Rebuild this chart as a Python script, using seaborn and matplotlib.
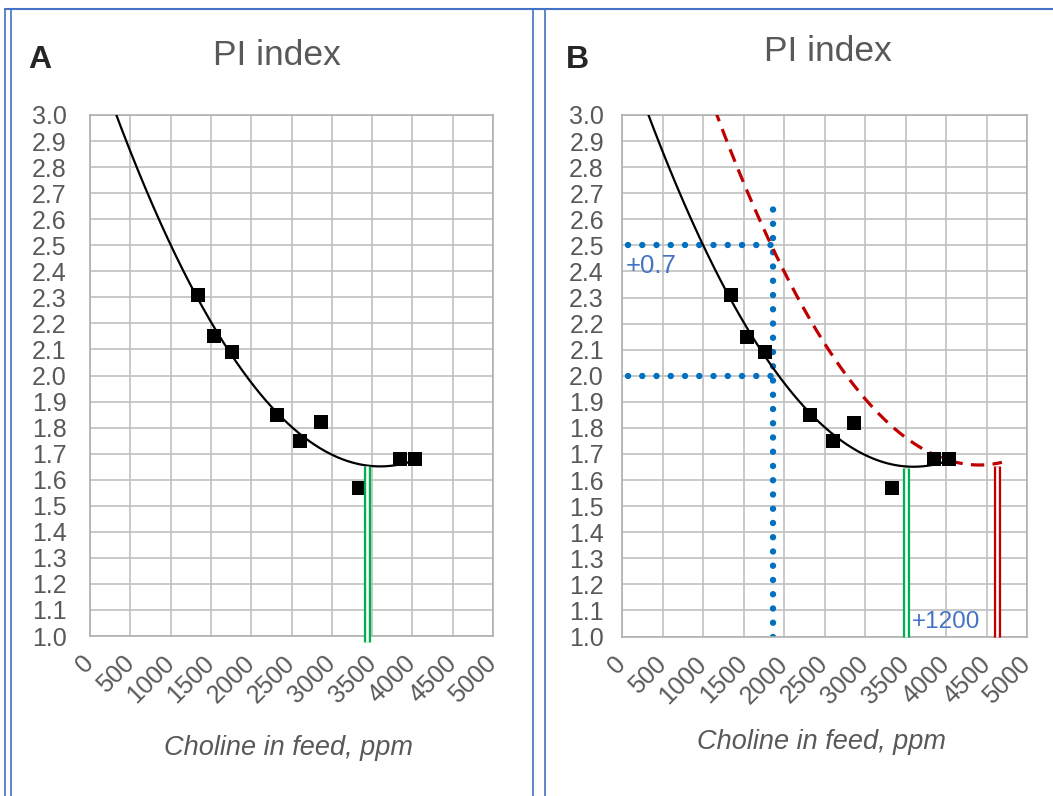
import numpy as np
import pandas as pd
import matplotlib
matplotlib.use("Agg")
import matplotlib.pyplot as plt
from matplotlib.lines import Line2D
import seaborn as sns

# measured points (same in both panels)
CHOLINE = [1344, 1538, 1762, 2316, 2605, 2862, 3334, 3846, 4032]
PI = [2.31, 2.15, 2.09, 1.85, 1.75, 1.82, 1.57, 1.68, 1.68]

# shifted trend in panel B
SHIFT_X = [1150, 1500, 1870, 2320, 2730, 3140, 3680, 4010, 4380, 4690]
SHIFT_Y = [3.00, 2.75, 2.51, 2.21, 2.01, 1.86, 1.72, 1.68, 1.66, 1.67]

X_TICKS = list(range(0, 5001, 500))
Y_TICKS = [round(1.0 + 0.1 * i, 1) for i in range(21)]

OPT_A = 3433
OPT_B = 3500
OPT_SHIFT = 4632
OPT_Y = 1.652
GUIDE_X = 1868
GUIDE_TOP = 2.67
GUIDE_LEVELS = [2.5, 2.0]

GRAY = "#595959"
GRID = "#C0C0C0"
FONT = "Liberation Sans"
W, H = 1053, 796


def style_axes(ax, ypad):
    ax.set_xlim(0, 5000)
    ax.set_ylim(1.0, 3.0)
    ax.set_xticks(X_TICKS)
    ax.set_yticks(Y_TICKS)
    ax.set_yticklabels([f"{v:.1f}" for v in Y_TICKS])
    ax.set_xticklabels([str(v) for v in X_TICKS], rotation=45,
                       ha="right", va="center", rotation_mode="anchor")
    ax.tick_params(axis="both", length=0, labelsize=18, labelcolor=GRAY)
    ax.tick_params(axis="y", pad=ypad)
    ax.tick_params(axis="x", pad=17)
    ax.grid(True, color=GRID, lw=1.2)
    ax.set_axisbelow(True)
    for sp in ax.spines.values():
        sp.set_visible(True)
        sp.set_color("#B0B0B0")
        sp.set_linewidth(1.2)
    ax.set_xlabel("")
    ax.set_ylabel("")


def draw_trend(ax):
    coef = np.polyfit(CHOLINE, PI, 2)
    xs = np.linspace(0, max(CHOLINE), 300)
    sns.lineplot(x=xs, y=np.polyval(coef, xs), color="black", lw=1.6,
                 ax=ax, zorder=3)
    sns.scatterplot(x=CHOLINE, y=PI, marker="s", s=100, color="black",
                    edgecolor="black", linewidth=0, ax=ax, zorder=4)


def double_vline(ax, x, ytop, ybot, color):
    ax.plot([x, x], [ybot, ytop], color=color, lw=5.2,
            solid_capstyle="butt", clip_on=False, zorder=5)
    ax.plot([x, x], [ybot, ytop], color="white", lw=1.9,
            solid_capstyle="butt", clip_on=False, zorder=6)


plt.rcParams["font.family"] = [FONT, "DejaVu Sans"]
sns.set_style("white")
plt.rcParams["font.family"] = [FONT, "DejaVu Sans"]

fig = plt.figure(figsize=(W / 100, H / 100), dpi=100)

ax_a = fig.add_axes([90 / W, 1 - 636 / H, 403 / W, 521 / H])
ax_b = fig.add_axes([622 / W, 1 - 636.5 / H, 405 / W, 521.5 / H])

# panel A
draw_trend(ax_a)
double_vline(ax_a, OPT_A, OPT_Y, 0.977, "#00B050")
style_axes(ax_a, 17)

# panel B
draw_trend(ax_b)
red = np.polyfit(SHIFT_X, SHIFT_Y, 2)
xs = np.linspace(SHIFT_X[0] - 100, SHIFT_X[-1], 300)
sns.lineplot(x=xs, y=np.polyval(red, xs), color="#C00000", lw=2.3,
             linestyle=(0, (4.2, 2.6)), ax=ax_b, zorder=3)
double_vline(ax_b, OPT_B, OPT_Y - 0.005, 1.0, "#00B050")
double_vline(ax_b, OPT_SHIFT, OPT_Y, 1.0, "#C00000")

dots = dict(color="#0070C0", lw=4.6, linestyle=(0, (0.01, 2.22)),
            dash_capstyle="round", zorder=2)
ax_b.plot([GUIDE_X, GUIDE_X], [1.0, GUIDE_TOP], **dots)
for lvl in GUIDE_LEVELS:
    ax_b.plot([78, GUIDE_X], [lvl, lvl], **dots)
ax_b.text(50, 2.42, "+0.7", color="#4472C4", fontsize=18.5,
          ha="left", va="center")
ax_b.text(3577, 1.057, "+1200", color="#4472C4", fontsize=17.5,
          ha="left", va="center")
style_axes(ax_b, 13)

# titles, panel letters, axis labels
fig.text(277 / W, 1 - 65 / H, "PI index", fontsize=25.5, color=GRAY,
         ha="center", va="baseline")
fig.text(828 / W, 1 - 61 / H, "PI index", fontsize=25.5, color=GRAY,
         ha="center", va="baseline")
fig.text(28 / W, 1 - 68 / H, "A", fontsize=23, fontweight="bold",
         ha="left", va="baseline")
fig.text(566 / W, 1 - 68 / H, "B", fontsize=23, fontweight="bold",
         ha="left", va="baseline")
fig.text(288 / W, 1 - 748 / H, "Choline in feed, ppm", fontsize=19.5,
         style="italic", color=GRAY, ha="center", va="center")
fig.text(821 / W, 1 - 742 / H, "Choline in feed, ppm", fontsize=19.5,
         style="italic", color=GRAY, ha="center", va="center")

# panel frames
frame = "#4472C4"
fig.add_artist(Line2D([5 / W, 1], [1 - 9 / H, 1 - 9 / H], color=frame, lw=1.5))
for px in [5, 11, 533, 545]:
    fig.add_artist(Line2D([px / W, px / W], [0, 1 - 9 / H], color=frame,
                          lw=1.2))

fig.savefig("out.png", dpi=100)
